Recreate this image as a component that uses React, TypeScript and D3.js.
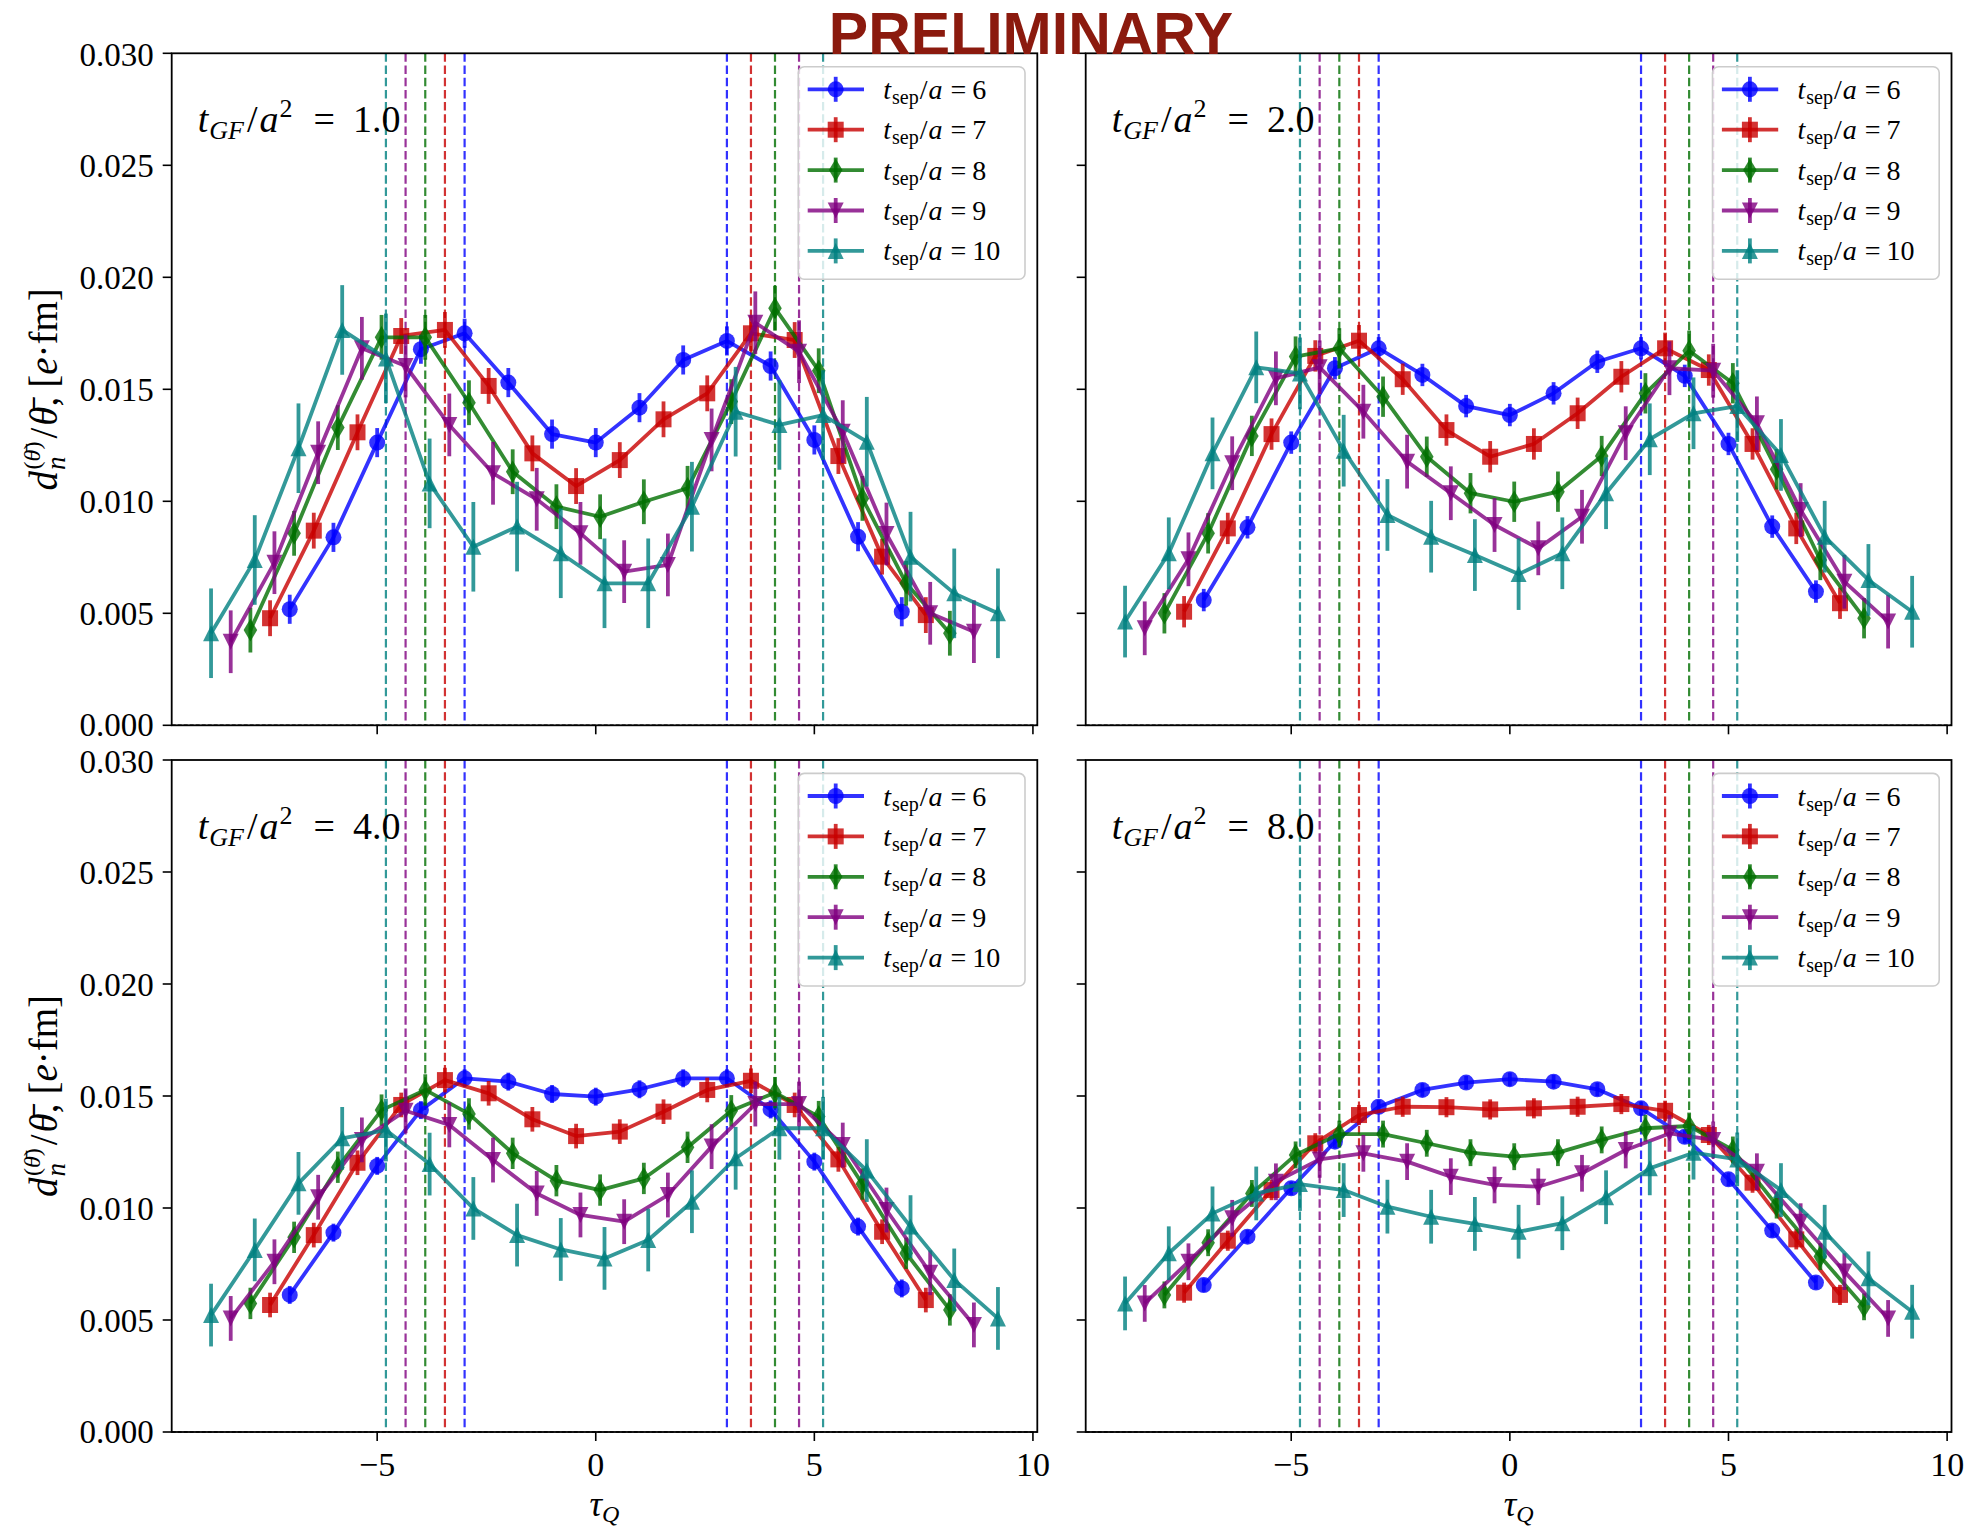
import React from 'react';
import * as d3 from 'd3';

// ---------- data ----------
const tgfLabels = ['1.0', '2.0', '4.0', '8.0'];
const tsepValues = [6, 7, 8, 9, 10];
const seriesColors = ['#0000ff', '#c80000', '#006f00', '#800080', '#008080'];
const seriesMarkers = ['o', 's', 'd', 'v', '^'];
const seriesShift = [0, 0.05, 0.1, 0.15, 0.2];

const tau6 = [-7, -6, -5, -4, -3, -2, -1, 0, 1, 2, 3, 4, 5, 6, 7];
const tau7 = [-7.5, -6.5, -5.5, -4.5, -3.5, -2.5, -1.5, -0.5, 0.5, 1.5, 2.5, 3.5, 4.5, 5.5, 6.5, 7.5];
const tau8 = [-8, -7, -6, -5, -4, -3, -2, -1, 0, 1, 2, 3, 4, 5, 6, 7, 8];
const tau9 = [-8.5, -7.5, -6.5, -5.5, -4.5, -3.5, -2.5, -1.5, -0.5, 0.5, 1.5, 2.5, 3.5, 4.5, 5.5, 6.5, 7.5, 8.5];
const tau10 = [-9, -8, -7, -6, -5, -4, -3, -2, -1, 0, 1, 2, 3, 4, 5, 6, 7, 8, 9];
const tauSets = [tau6, tau7, tau8, tau9, tau10];
const sinkLines = [3, 3.5, 4, 4.5, 5];

const gf1_t6 = [0.00518, 0.00839, 0.01262, 0.01679, 0.0175, 0.0153, 0.013, 0.01262, 0.01418, 0.01631, 0.01716, 0.01604, 0.01274, 0.00842, 0.00507];
const gf1_t7 = [0.00478, 0.00869, 0.01308, 0.01738, 0.01765, 0.01515, 0.01214, 0.01068, 0.01184, 0.01366, 0.01482, 0.0175, 0.0172, 0.01202, 0.00753, 0.00492];
const gf1_t8 = [0.00425, 0.00857, 0.01329, 0.01732, 0.01732, 0.0144, 0.01132, 0.00976, 0.00931, 0.00998, 0.01058, 0.01445, 0.01862, 0.01583, 0.01013, 0.00634, 0.00411];
const gf1_t9 = [0.00373, 0.00726, 0.01217, 0.01683, 0.01604, 0.01341, 0.01125, 0.01009, 0.00857, 0.00686, 0.00716, 0.01274, 0.01797, 0.01668, 0.01311, 0.00854, 0.005, 0.00418];
const gf1_t10 = [0.00411, 0.00738, 0.01237, 0.01765, 0.01638, 0.0108, 0.00797, 0.00887, 0.00768, 0.00634, 0.00634, 0.00976, 0.014, 0.01341, 0.01385, 0.01266, 0.00753, 0.00589, 0.005];
const gf1_err = [0.00065, 0.0008, 0.001, 0.0014, 0.002];

const gf2_t6 = [0.00559, 0.00884, 0.01262, 0.01594, 0.01683, 0.01564, 0.01425, 0.01385, 0.01482, 0.01623, 0.01683, 0.0156, 0.01256, 0.00887, 0.00597];
const gf2_t7 = [0.00507, 0.00879, 0.013, 0.01649, 0.01717, 0.01545, 0.01318, 0.01199, 0.01256, 0.01393, 0.01556, 0.01683, 0.01586, 0.01256, 0.00879, 0.00545];
const gf2_t8 = [0.005, 0.00857, 0.01292, 0.01646, 0.01683, 0.01467, 0.01199, 0.01036, 0.00998, 0.01043, 0.01202, 0.01482, 0.01672, 0.01527, 0.01143, 0.00738, 0.00478];
const gf2_t9 = [0.00433, 0.00741, 0.0117, 0.01549, 0.01598, 0.014, 0.01177, 0.01036, 0.00894, 0.0079, 0.00931, 0.01304, 0.01594, 0.01583, 0.01348, 0.00961, 0.00641, 0.00463];
const gf2_t10 = [0.00463, 0.00768, 0.01214, 0.01598, 0.01571, 0.01226, 0.00939, 0.00842, 0.0076, 0.00675, 0.00768, 0.01036, 0.01277, 0.01393, 0.01425, 0.01207, 0.00842, 0.00649, 0.00507];
const gf2_err = [0.0005, 0.0007, 0.0009, 0.0012, 0.0016];

const gf4_t6 = [0.00612, 0.0089, 0.01188, 0.01437, 0.01579, 0.01564, 0.01509, 0.01497, 0.0153, 0.01579, 0.01579, 0.0144, 0.01207, 0.00917, 0.00641];
const gf4_t7 = [0.00567, 0.00879, 0.01202, 0.0146, 0.01571, 0.01512, 0.01396, 0.01321, 0.01341, 0.0143, 0.01527, 0.01568, 0.0146, 0.01217, 0.00894, 0.00589];
const gf4_t8 = [0.00574, 0.00869, 0.01182, 0.01437, 0.01527, 0.0142, 0.01244, 0.01122, 0.0108, 0.01132, 0.01271, 0.01434, 0.01515, 0.01408, 0.01107, 0.00798, 0.00545];
const gf4_t9 = [0.00507, 0.0076, 0.01048, 0.01304, 0.01434, 0.01371, 0.01214, 0.01065, 0.00969, 0.00939, 0.01058, 0.01274, 0.01464, 0.01464, 0.01281, 0.00991, 0.00711, 0.00478];
const gf4_t10 = [0.00522, 0.00813, 0.0111, 0.01311, 0.01348, 0.01196, 0.00998, 0.00879, 0.00815, 0.00775, 0.00857, 0.01028, 0.01222, 0.01356, 0.01356, 0.01167, 0.00917, 0.00679, 0.00507];
const gf4_err = [0.0004, 0.00055, 0.0007, 0.001, 0.0014];

const gf8_t6 = [0.00656, 0.00872, 0.01088, 0.01296, 0.01452, 0.01527, 0.0156, 0.01575, 0.01564, 0.0153, 0.01445, 0.01318, 0.01128, 0.00899, 0.00667];
const gf8_t7 = [0.00622, 0.00854, 0.0108, 0.01289, 0.01415, 0.01452, 0.0145, 0.0144, 0.01445, 0.01452, 0.01464, 0.01434, 0.01326, 0.01113, 0.0086, 0.00612];
const gf8_t8 = [0.00612, 0.00845, 0.01065, 0.01237, 0.0133, 0.0133, 0.01289, 0.01247, 0.01229, 0.01247, 0.01304, 0.01356, 0.01366, 0.01259, 0.01013, 0.00783, 0.00559];
const gf8_t9 = [0.00574, 0.0076, 0.00954, 0.01117, 0.01217, 0.01244, 0.01207, 0.0114, 0.01103, 0.01095, 0.01155, 0.01259, 0.01333, 0.01304, 0.01162, 0.00939, 0.00716, 0.00507];
const gf8_t10 = [0.00574, 0.00798, 0.00976, 0.01065, 0.01107, 0.0108, 0.01006, 0.00961, 0.00929, 0.00894, 0.00932, 0.01048, 0.01177, 0.01247, 0.01217, 0.0108, 0.00894, 0.00686, 0.00537];
const gf8_err = [0.0003, 0.00045, 0.0006, 0.00082, 0.0012];

const yTicks = [0, 0.005, 0.01, 0.015, 0.02, 0.025, 0.03];
const xTicks = [-5, 0, 5, 10];

const panelValues = [
  [gf1_t6, gf1_t7, gf1_t8, gf1_t9, gf1_t10],
  [gf2_t6, gf2_t7, gf2_t8, gf2_t9, gf2_t10],
  [gf4_t6, gf4_t7, gf4_t8, gf4_t9, gf4_t10],
  [gf8_t6, gf8_t7, gf8_t8, gf8_t9, gf8_t10],
];
const panelErrors = [gf1_err, gf2_err, gf4_err, gf8_err];

// ---------- layout ----------
const W = 1967;
const H = 1527;
const FONT = '"Liberation Serif", "DejaVu Serif", serif';
const boxes = [
  { left: 171.7, right: 1037.3, top: 53.3, bottom: 725.3, row: 0, col: 0 },
  { left: 1085.7, right: 1951.5, top: 53.3, bottom: 725.3, row: 0, col: 1 },
  { left: 171.7, right: 1037.3, top: 760, bottom: 1432, row: 1, col: 0 },
  { left: 1085.7, right: 1951.5, top: 760, bottom: 1432, row: 1, col: 1 },
];
const MS = 16;
const LW = 3.8;
const ALPHA = 0.8;

function markerPath(kind: string, s: number): string {
  const h = s / 2;
  switch (kind) {
    case 'o':
      return `M${h},0A${h},${h} 0 1,1 ${-h},0A${h},${h} 0 1,1 ${h},0Z`;
    case 's':
      return `M${-h},${-h}H${h}V${h}H${-h}Z`;
    case 'd': {
      const dh = s * 0.707;
      const dw = dh * 0.6;
      return `M0,${-dh}L${dw},0L0,${dh}L${-dw},0Z`;
    }
    case 'v':
      return `M${-h},${-h}L${h},${-h}L0,${h}Z`;
    default:
      return `M${-h},${h}L${h},${h}L0,${-h}Z`;
  }
}

const fmtY = d3.format('.3f');
const fmtX = (v: number) => (v < 0 ? '\u2212' + Math.abs(v) : String(v));

function Panel({ idx }: { idx: number }) {
  const b = boxes[idx];
  const x = d3.scaleLinear().domain([-9.7, 10.1]).range([b.left, b.right]);
  const y = d3.scaleLinear().domain([0, 0.03]).range([b.bottom, b.top]);
  const vals = panelValues[idx];
  const errs = panelErrors[idx];
  const line = d3
    .line<[number, number]>()
    .x((d) => x(d[0]))
    .y((d) => y(d[1]));
  const legLeft = b.right - 239;
  const legTop = b.top + 13.4;

  return (
    <g>
      {sinkLines.map((s, i) =>
        [-s, s].map((v, k) => (
          <line
            key={`v${i}-${k}`}
            x1={x(v + seriesShift[i])}
            x2={x(v + seriesShift[i])}
            y1={b.top}
            y2={b.bottom}
            stroke={seriesColors[i]}
            strokeWidth={2.2}
            strokeDasharray="8.5,3.7"
            opacity={ALPHA}
          />
        ))
      )}
      <line x1={b.left} x2={b.right} y1={y(0)} y2={y(0)} stroke="#000" strokeWidth={1.6} strokeDasharray="4,2" />
      {vals.map((arr, si) => {
        const pts: [number, number][] = arr.map((v, j) => [tauSets[si][j] + seriesShift[si], v]);
        const c = seriesColors[si];
        return (
          <g key={`s${si}`}>
            {pts.map((p, j) => (
              <line
                key={`e${j}`}
                x1={x(p[0])}
                x2={x(p[0])}
                y1={y(p[1] - errs[si])}
                y2={y(p[1] + errs[si])}
                stroke={c}
                strokeWidth={LW}
                opacity={ALPHA}
              />
            ))}
            <path d={line(pts) || ''} fill="none" stroke={c} strokeWidth={LW} opacity={ALPHA} strokeLinejoin="round" />
            {pts.map((p, j) => (
              <path
                key={`m${j}`}
                d={markerPath(seriesMarkers[si], MS)}
                transform={`translate(${x(p[0])},${y(p[1])})`}
                fill={c}
                opacity={ALPHA}
              />
            ))}
          </g>
        );
      })}
      <rect x={b.left} y={b.top} width={b.right - b.left} height={b.bottom - b.top} fill="none" stroke="#000" strokeWidth={1.8} />
      {yTicks.map((t) => (
        <g key={`yt${t}`}>
          <line x1={b.left - 9} x2={b.left} y1={y(t)} y2={y(t)} stroke="#000" strokeWidth={1.6} />
          {b.col === 0 && (
            <text
              x={b.left - 18}
              y={y(t) + (t === 0 ? 10.5 : t === 0.03 ? 13 : 11.5)}
              textAnchor="end"
              fontSize={33}
              fontFamily={FONT}
            >
              {fmtY(t)}
            </text>
          )}
        </g>
      ))}
      {xTicks.map((t) => (
        <g key={`xt${t}`}>
          <line x1={x(t)} x2={x(t)} y1={b.bottom} y2={b.bottom + 9} stroke="#000" strokeWidth={1.6} />
          {b.row === 1 && (
            <text x={x(t)} y={b.bottom + 44} textAnchor="middle" fontSize={34} fontFamily={FONT}>
              {fmtX(t)}
            </text>
          )}
        </g>
      ))}
      <text x={b.left + 26} y={b.top + 79} fontSize={38} fontFamily={FONT}>
        <tspan fontStyle="italic">t</tspan>
        <tspan fontStyle="italic" fontSize={26} dy={7} dx={1}>GF</tspan>
        <tspan dy={-7} dx={3}>/</tspan>
        <tspan fontStyle="italic" dx={2}>a</tspan>
        <tspan fontSize={26} dy={-15} dx={1}>2</tspan>
        <tspan dy={15} dx={21}>=</tspan>
        <tspan dx={18}>{tgfLabels[idx]}</tspan>
      </text>
      <rect x={legLeft} y={legTop} width={226.7} height={212.6} rx={6} fill="#fff" fillOpacity={0.8} stroke="#cccccc" strokeWidth={1.6} />
      {tsepValues.map((t, i) => {
        const cy = legTop + 22.6 + 40.4 * i;
        const c = seriesColors[i];
        return (
          <g key={`lg${i}`}>
            <line x1={legLeft + 37.4} x2={legLeft + 37.4} y1={cy - 12.5} y2={cy + 12.5} stroke={c} strokeWidth={LW} opacity={ALPHA} />
            <line x1={legLeft + 9.4} x2={legLeft + 65.7} y1={cy} y2={cy} stroke={c} strokeWidth={LW} opacity={ALPHA} />
            <path d={markerPath(seriesMarkers[i], MS)} transform={`translate(${legLeft + 37.4},${cy})`} fill={c} opacity={ALPHA} />
            <text x={legLeft + 85} y={cy + 9.5} fontSize={28} fontFamily={FONT}>
              <tspan fontStyle="italic">t</tspan>
              <tspan fontSize={20} dy={5} dx={1}>sep</tspan>
              <tspan dy={-5} dx={1}>/</tspan>
              <tspan fontStyle="italic" dx={1}>a</tspan>
              <tspan dx={8}>=</tspan>
              <tspan dx={6}>{t}</tspan>
            </text>
          </g>
        );
      })}
    </g>
  );
}

function YLabel({ cy }: { cy: number }) {
  return (
    <text transform={`translate(57,${cy}) rotate(-90)`} textAnchor="middle" fontSize={39} fontFamily={FONT}>
      <tspan fontStyle="italic">d</tspan>
      <tspan fontStyle="italic" fontSize={27} dy={8} dx={1}>n</tspan>
      <tspan fontSize={24} dx={-13} dy={-25}>(</tspan>
      <tspan fontSize={24} fontStyle="italic">{'\u03b8\u0304'}</tspan>
      <tspan fontSize={24}>)</tspan>
      <tspan dy={17} dx={3}>/</tspan>
      <tspan fontStyle="italic" dx={2}>{'\u03b8\u0304'}</tspan>
      <tspan>,</tspan>
      <tspan dx={9}>[</tspan>
      <tspan fontStyle="italic">e</tspan>
      <tspan>{'\u00b7fm]'}</tspan>
    </text>
  );
}

function XLabel({ cx }: { cx: number }) {
  return (
    <text x={cx} y={1516} textAnchor="middle" fontSize={35} fontFamily={FONT}>
      <tspan fontStyle="italic">{'\u03c4'}</tspan>
      <tspan fontStyle="italic" fontSize={24} dy={6}>Q</tspan>
    </text>
  );
}

export default function App() {
  return (
    <svg
      width={W}
      height={H}
      viewBox={`0 0 ${W} ${H}`}
      style={{ position: 'absolute', left: 0, top: 0, background: '#fff' }}
    >
      <rect x={0} y={0} width={W} height={H} fill="#fff" />
      {boxes.map((_, i) => (
        <Panel key={i} idx={i} />
      ))}
      <YLabel cy={(boxes[0].top + boxes[0].bottom) / 2} />
      <YLabel cy={(boxes[2].top + boxes[2].bottom) / 2} />
      <XLabel cx={(boxes[2].left + boxes[2].right) / 2} />
      <XLabel cx={(boxes[3].left + boxes[3].right) / 2} />
      <text
        x={1031}
        y={54}
        textAnchor="middle"
        fontSize={59}
        fontWeight="bold"
        fontFamily='"Liberation Sans", Arial, sans-serif'
        fill="#8b1a0e"
      >
        PRELIMINARY
      </text>
    </svg>
  );
}
